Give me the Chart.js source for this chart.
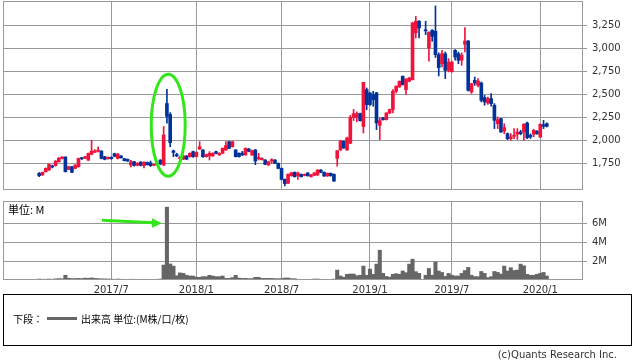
<!DOCTYPE html>
<html>
<head>
<meta charset="utf-8">
<script src="https://cdn.jsdelivr.net/npm/chart.js@4.4.1/dist/chart.umd.min.js"></script>
<style>
  body { margin: 0; background: #fff; }
  #wrap { position: relative; width: 638px; height: 362px; font-family: 'DejaVu Sans', 'Noto Sans CJK JP', sans-serif; }
  #price { position: absolute; left: 0; top: 0; }
  #vol { position: absolute; left: 0; top: 195px; }
  #unit { position: absolute; left: 8px; top: 201px; font-size: 11px; color: #000; font-family: 'Noto Sans CJK JP', sans-serif; }
  #legend { position: absolute; left: 3px; top: 294px; width: 629px; height: 52px; box-sizing: border-box; border: 1px solid #000; font-size: 10px; color: #000; font-family: 'Noto Sans CJK JP', sans-serif; }
  #legend .row { position: absolute; left: 9px; top: 16px; display: flex; align-items: center; white-space: nowrap; }
  #legend .swatch { display: inline-block; width: 30px; height: 3px; background: #666; margin: 0 4px 0 4px; }
  #copy { position: absolute; right: 21px; top: 349px; font-size: 10px; color: #333; }
</style>
</head>
<body>
<div id="wrap">
  <canvas id="price" width="638" height="192"></canvas>
  <canvas id="vol" width="638" height="103"></canvas>
  <div id="unit">単位: M</div>
  <div id="legend"><div class="row"><span>下段：</span><span class="swatch"></span><span>出来高 単位:(M株/口/枚)</span></div></div>
  <div id="copy">(c)Quants Research Inc.</div>
</div>
<script>
// weekly candles, first week starting 2017-01-30 (index 117 = Golden Week, no trading)
const weekStart = '2017-01-30';
const opens = [
  1641,1624,1659,1677,1720,1724,1767,1803,1818,1684,1713,1695,1713,1805,1805,1785,1847,1870,1880,1883,
  1821,1800,1815,1855,1803,1830,1800,1793,1731,1767,1728,1764,1725,1760,1755,1728,1742,1785,1731,2400,
  2280,1885,1845,1800,1795,1830,1822,1877,1822,1906,1895,1822,1830,1830,1877,1841,1859,1895,1985,1931,
  1895,1859,1862,1841,1906,1841,1895,1800,1790,1786,1732,1775,1786,1750,1695,1575,1533,1615,1652,1615,
  1630,1618,1645,1605,1620,1623,1677,1652,1612,1641,1630,1804,1895,1989,1895,1968,2250,2245,2290,2150,
  2550,2515,2497,2515,2163,2243,2225,2297,2334,2533,2580,2696,2551,2642,2660,3167,3294,null,3196,3004,
  3196,3185,2930,2833,2940,2760,2745,2978,2942,2870,3043,3079,2525,2652,2598,2623,2464,2406,2453,2381,
  2181,2235,2101,2072,2018,2043,2065,2090,2090,2188,2054,2065,2098,2036,2170,2181
];
const highs = [
  1650,1655,1700,1745,1730,1780,1812,1822,1822,1720,1718,1735,1808,1815,1826,1862,2000,1900,1930,1888,
  1826,1820,1820,1860,1858,1835,1805,1798,1782,1771,1760,1768,1770,1765,1775,1740,1748,1790,2150,2555,
  2300,1895,1860,1825,1835,1835,1865,1882,1875,1985,1900,1850,1877,1865,1882,1865,1918,1985,1990,1990,
  1900,1864,1880,1918,1911,1893,1900,1859,1810,1791,1773,1800,1791,1755,1700,1580,1635,1653,1657,1655,
  1635,1635,1650,1630,1650,1682,1682,1657,1646,1646,1635,1890,1998,1994,2035,2270,2336,2310,2295,2630,
  2569,2520,2533,2522,2243,2250,2300,2340,2551,2592,2645,2700,2667,2685,3280,3348,3300,null,3294,3180,
  3203,3460,2950,2978,2960,2888,2860,2985,2960,2950,3225,3085,2620,2688,2670,2634,2489,2470,2507,2399,
  2253,2240,2181,2080,2072,2127,2127,2110,2181,2199,2070,2120,2105,2180,2217,2190
];
const lows = [
  1605,1618,1655,1672,1700,1720,1762,1798,1655,1680,1648,1690,1708,1790,1800,1780,1842,1865,1875,1798,
  1788,1795,1795,1820,1797,1805,1775,1770,1710,1720,1722,1722,1700,1730,1715,1722,1730,1735,1725,2185,
  1930,1822,1822,1795,1790,1790,1818,1815,1818,1900,1815,1818,1786,1825,1852,1836,1855,1890,1908,1926,
  1818,1818,1835,1836,1875,1836,1735,1786,1785,1734,1727,1750,1745,1690,1570,1505,1528,1610,1600,1575,
  1600,1613,1610,1600,1615,1618,1647,1607,1607,1610,1552,1719,1890,1912,1890,1963,2215,2200,2208,2080,
  2333,2380,2370,2116,2008,2220,2220,2290,2297,2515,2575,2600,2497,2635,2655,3113,3113,null,3149,2859,
  3076,2900,2700,2797,2670,2743,2740,2870,2833,2815,2960,2535,2510,2598,2580,2417,2381,2390,2370,2127,
  2127,2085,2072,2007,2000,2018,2010,2060,2000,2018,2020,2040,2065,2030,2127,2145
];
const closes = [
  1615,1652,1695,1738,1710,1774,1807,1818,1659,1713,1652,1731,1803,1800,1821,1858,1883,1883,1894,1803,
  1793,1815,1800,1826,1850,1810,1779,1775,1767,1728,1750,1728,1760,1735,1725,1735,1736,1745,2058,2260,
  1975,1868,1830,1815,1830,1795,1859,1822,1870,1931,1822,1845,1859,1859,1859,1859,1913,1942,1913,1985,
  1822,1822,1840,1913,1880,1888,1775,1815,1805,1739,1768,1790,1750,1695,1575,1530,1630,1648,1605,1645,
  1605,1630,1615,1625,1645,1677,1652,1612,1641,1615,1557,1887,1993,1917,2025,2250,2290,2290,2213,2630,
  2388,2388,2443,2189,2214,2225,2297,2334,2533,2588,2642,2606,2667,2678,3276,3294,3221,null,3190,3175,
  3131,2931,2790,2942,2760,2850,2850,2906,2870,2924,3079,2543,2616,2623,2645,2435,2417,2453,2399,2217,
  2225,2090,2138,2018,2036,2054,2090,2072,2174,2029,2036,2109,2072,2174,2152,2152
];
const volumes = [
  0.10,0.08,0.08,0.10,0.08,0.12,0.15,0.12,0.50,0.18,0.15,0.15,0.17,0.15,0.20,0.18,0.22,0.17,0.15,0.12,
  0.12,0.10,0.10,0.07,0.10,0.08,0.07,0.05,0.08,0.07,0.05,0.06,0.08,0.06,0.05,0.05,0.06,0.10,1.58,7.70,
  1.70,1.47,0.45,0.75,0.70,0.50,0.42,0.42,0.30,0.28,0.35,0.35,0.50,0.42,0.35,0.35,0.42,0.17,0.17,0.25,
  0.49,0.20,0.17,0.17,0.14,0.14,0.28,0.28,0.17,0.17,0.17,0.17,0.14,0.14,0.14,0.21,0.21,0.14,0.14,0.07,
  0.07,0.05,0.03,0.03,0.10,0.10,0.07,0.07,0.05,0.05,0.10,1.05,0.42,0.30,0.60,0.63,0.63,0.45,0.50,1.47,
  0.50,1.15,0.60,1.68,3.15,0.70,0.38,0.30,0.60,0.67,0.60,0.95,0.77,1.68,2.20,0.88,0.70,null,0.50,1.22,
  0.50,1.90,0.95,0.80,0.38,0.70,0.50,0.42,0.42,0.70,1.00,1.33,0.50,0.35,0.35,0.90,0.70,0.25,0.35,0.90,
  0.80,0.63,1.47,0.95,1.30,1.00,1.05,1.68,1.50,0.60,0.50,0.50,0.60,0.70,0.80,0.42
];
const tickLabels = ['2017/7', '2018/1', '2018/7', '2019/1', '2019/7', '2020/1'];
const priceTicks = [1750, 2000, 2250, 2500, 2750, 3000, 3250];
const volumeTicks = [2, 4, 6];

const UP = '#f0143c';
const DOWN = '#003399';
const GRID = '#999999';

const weekDates = opens.map((_, i) => {
  const d = new Date(weekStart + 'T00:00:00Z');
  d.setUTCDate(d.getUTCDate() + 7 * i);
  return d;
});
// gridline at the first weekly bar of each labelled month
const tickIndex = tickLabels.map((lbl) => {
  const [y, m] = lbl.split('/').map(Number);
  return weekDates.findIndex((d) => d.getUTCFullYear() === y && d.getUTCMonth() + 1 === m);
});

const bodies = [];
const wicks = [];
const vols = [];
opens.forEach((o, i) => {
  if (o == null) return;
  const up = closes[i] >= o;
  bodies.push({ x: i, y: [o, closes[i]], up });
  wicks.push({ x: i, y: [lows[i], highs[i]], up });
  vols.push({ x: i, y: volumes[i] });
});

const X_MIN = -11.05;
const X_MAX = 166.05;

Chart.defaults.font.family = "'DejaVu Sans', sans-serif";
Chart.defaults.font.size = 10;
Chart.defaults.color = '#333';

// keep the plot box where it is: no room reserved for tick labels above/below
const rightAxisFit = (s) => {
  s.width = 55;
  s.paddingTop = 0;
  s.paddingBottom = 0;
};

const frame = {
  id: 'frame',
  afterDraw(chart) {
    const { ctx, chartArea: a } = chart;
    ctx.save();
    ctx.strokeStyle = GRID;
    ctx.lineWidth = 1;
    ctx.strokeRect(Math.round(a.left) + 0.5, Math.round(a.top) + 0.5,
      Math.round(a.right - a.left) - 1, Math.round(a.bottom - a.top) - 1);
    ctx.restore();
  },
};

const ellipse = {
  id: 'ellipse',
  afterDraw(chart) {
    const { ctx, scales } = chart;
    const cx = scales.x.getPixelForValue(39.4);
    const cy = scales.y.getPixelForValue(2165);
    ctx.save();
    ctx.strokeStyle = '#33e61a';
    ctx.lineWidth = 3;
    ctx.beginPath();
    ctx.ellipse(cx, cy, 17, 51, 0, 0, Math.PI * 2);
    ctx.stroke();
    ctx.restore();
  },
};

const arrow = {
  id: 'arrow',
  afterDraw(chart) {
    const { ctx, scales } = chart;
    const tipX = scales.x.getPixelForValue(39) - 5;
    const tipY = scales.y.getPixelForValue(6);
    const tailX = tipX - 60;
    const tailY = tipY - 3;
    ctx.save();
    ctx.strokeStyle = '#33e61a';
    ctx.fillStyle = '#33e61a';
    ctx.lineWidth = 3;
    ctx.beginPath();
    ctx.moveTo(tailX, tailY);
    ctx.lineTo(tipX - 8, tipY - 0.4);
    ctx.stroke();
    ctx.beginPath();
    ctx.moveTo(tipX, tipY);
    ctx.lineTo(tipX - 10, tipY - 5);
    ctx.lineTo(tipX - 10, tipY + 4.5);
    ctx.closePath();
    ctx.fill();
    ctx.restore();
  },
};

const candleColor = (ctx) => (ctx.raw && ctx.raw.up ? UP : DOWN);

new Chart(document.getElementById('price'), {
  type: 'bar',
  data: {
    datasets: [
      { data: bodies, backgroundColor: candleColor, barThickness: 3, grouped: false, borderWidth: 0, minBarLength: 1 },
      { data: wicks, backgroundColor: candleColor, barThickness: 1, grouped: false, borderWidth: 0 },
    ],
  },
  options: {
    responsive: false,
    animation: false,
    devicePixelRatio: 1,
    layout: { padding: { left: 3, top: 1, right: 0, bottom: 0 } },
    plugins: { legend: { display: false }, tooltip: { enabled: false } },
    scales: {
      x: {
        type: 'linear', min: X_MIN, max: X_MAX, offset: false,
        afterBuildTicks: (s) => { s.ticks = tickIndex.map((v) => ({ value: v })); },
        afterFit: (s) => { s.height = 2; },
        ticks: { display: false },
        grid: { color: GRID, drawTicks: false, offset: false },
        border: { display: false },
      },
      y: {
        position: 'right', min: 1460, max: 3514,
        afterBuildTicks: (s) => { s.ticks = priceTicks.map((v) => ({ value: v })); },
        afterFit: rightAxisFit,
        ticks: { padding: 5, color: '#333', callback: (v) => Number(v).toLocaleString('en-US') },
        grid: { color: GRID, tickLength: 4 },
        border: { display: false },
      },
    },
  },
  plugins: [frame, ellipse],
});

new Chart(document.getElementById('vol'), {
  type: 'bar',
  data: {
    datasets: [
      { data: vols, backgroundColor: '#666666', barThickness: 3.4, grouped: false, borderWidth: 0 },
    ],
  },
  options: {
    responsive: false,
    animation: false,
    devicePixelRatio: 1,
    layout: { padding: { left: 3, top: 6, right: 0, bottom: 0 } },
    plugins: { legend: { display: false }, tooltip: { enabled: false } },
    scales: {
      x: {
        type: 'linear', min: X_MIN, max: X_MAX, offset: false,
        afterBuildTicks: (s) => { s.ticks = tickIndex.map((v) => ({ value: v })); },
        afterFit: (s) => { s.height = 18; },
        ticks: { padding: 4, color: '#333', maxRotation: 0, autoSkip: false, callback: (v, i) => tickLabels[i] },
        grid: { color: GRID, drawTicks: false, offset: false },
        border: { display: false },
      },
      y: {
        position: 'right', min: 0, max: 8.35,
        afterBuildTicks: (s) => { s.ticks = volumeTicks.map((v) => ({ value: v })); },
        afterFit: rightAxisFit,
        ticks: { padding: 5, color: '#333', callback: (v) => v + 'M' },
        grid: { color: GRID, tickLength: 4 },
        border: { display: false },
      },
    },
  },
  plugins: [frame, arrow],
});
</script>
</body>
</html>
